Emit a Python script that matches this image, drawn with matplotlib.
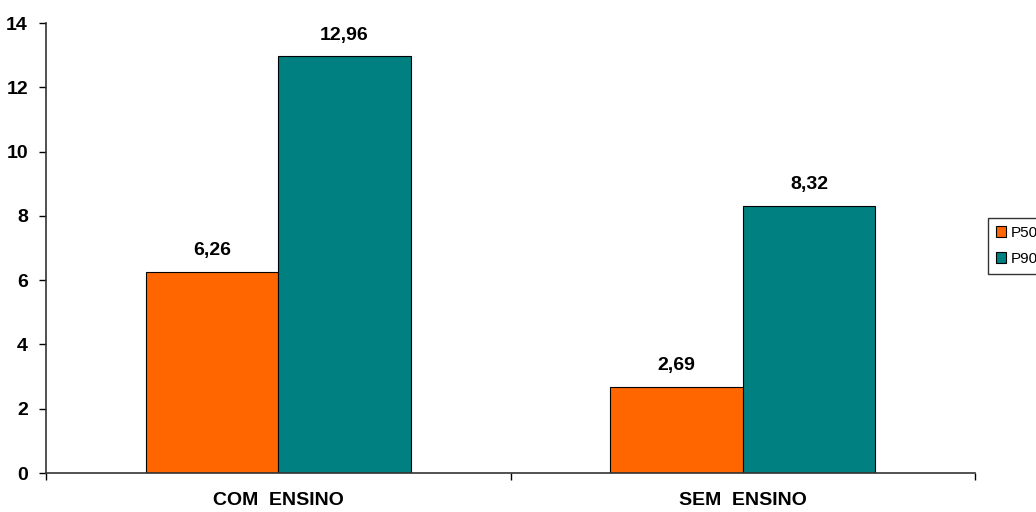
import matplotlib
matplotlib.use("Agg")
import matplotlib.pyplot as plt
import numpy as np

categories = ["COM  ENSINO", "SEM  ENSINO"]
series_names = ["P50", "P90"]
p50 = [6.26, 2.69]
p90 = [12.96, 8.32]
colors = ["#FF6600", "#008080"]

plt.rcParams["font.family"] = ["Liberation Sans", "DejaVu Sans"]

fig = plt.figure(figsize=(10.36, 5.12), dpi=100)
ax = fig.add_axes([46 / 1036, 39 / 512, (975 - 46) / 1036, (473 - 23) / 512])

x = np.arange(len(categories))
w = 0.285
for i, (vals, name, c) in enumerate(zip([p50, p90], series_names, colors)):
    pos = x + (i - 0.5) * w
    bars = ax.bar(pos, vals, width=w, color=c, edgecolor="black", linewidth=0.8, label=name)
    for b, v in zip(bars, vals):
        ax.text(b.get_x() + b.get_width() / 2, v + 0.4, f"{v:.2f}".replace(".", ","),
                ha="center", va="bottom", fontsize=14, fontweight="bold")

ax.set_xlim(-0.5, 1.5)
ax.set_ylim(0, 14)
ax.set_yticks(range(0, 15, 2))
ax.set_xticks(x)
ax.set_xticklabels(categories, fontsize=14, fontweight="bold")
ax.set_xticks([-0.5, 0.5, 1.5], minor=True)
ax.tick_params(axis="x", which="major", length=0, pad=14)
ax.tick_params(axis="x", which="minor", length=5, width=1, direction="out")
ax.tick_params(axis="y", length=5, width=1, direction="out", labelsize=14, pad=8)
for lbl in ax.get_yticklabels():
    lbl.set_fontweight("bold")

for s in ["top", "right"]:
    ax.spines[s].set_visible(False)
for s in ["left", "bottom"]:
    ax.spines[s].set_color("#333333")
    ax.spines[s].set_linewidth(1.2)

leg = fig.legend(loc="upper left", bbox_to_anchor=(988 / 1036, 1 - 218 / 512),
                 fontsize=11, frameon=True, fancybox=False, handlelength=0.7,
                 handleheight=0.7, handletextpad=0.3, borderpad=0.5, labelspacing=0.8,
                 borderaxespad=0)
leg.get_frame().set_edgecolor("black")
leg.get_frame().set_linewidth(1)

fig.savefig("out.png", dpi=100)
